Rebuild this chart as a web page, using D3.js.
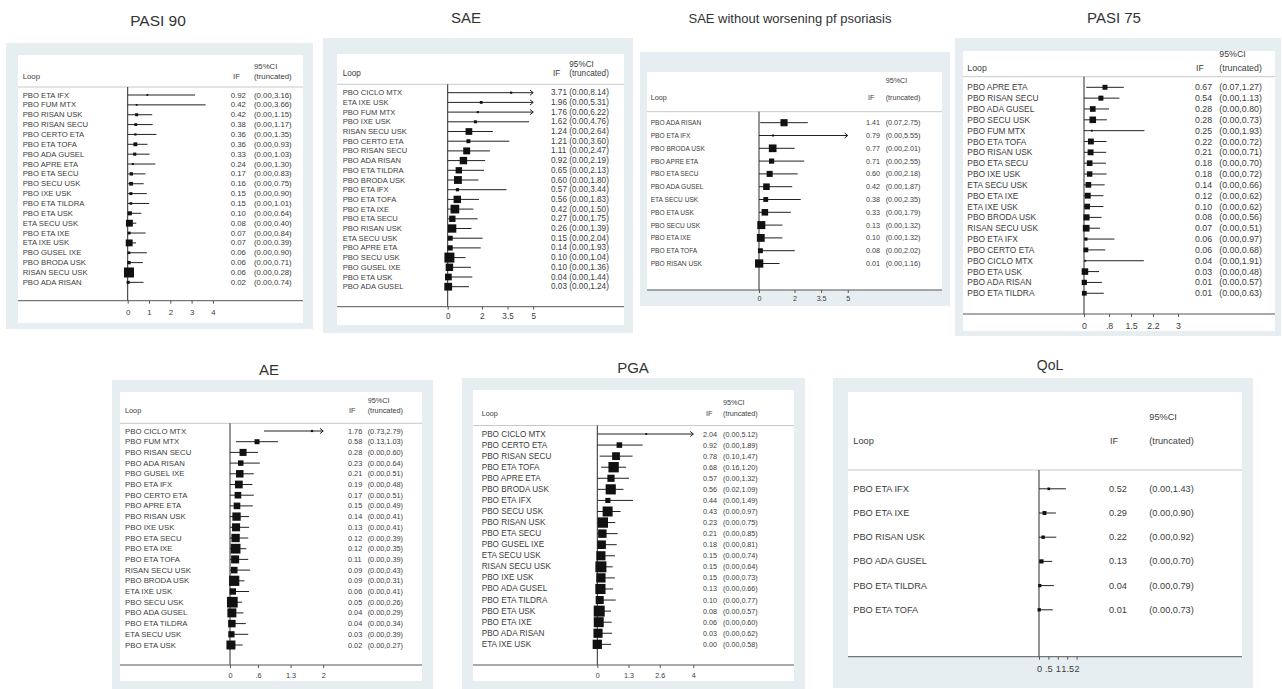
<!DOCTYPE html>
<html>
<head>
<meta charset="utf-8">
<script src="https://cdn.jsdelivr.net/npm/d3@7"></script>
<style>
  html, body { margin: 0; padding: 0; background: #ffffff; }
  svg { display: block; font-family: "Liberation Sans", Arial, Helvetica, sans-serif; }
</style>
</head>
<body>
<svg id="chart" width="1282" height="689"></svg>
<script>
// ---------- Inconsistency factors per loop (IF, truncated 95% CI) ----------

// PASI 90
const pasi90Loops = ["PBO ETA IFX","PBO FUM MTX","PBO RISAN USK","PBO RISAN SECU","PBO CERTO ETA","PBO ETA TOFA","PBO ADA GUSEL","PBO APRE ETA","PBO ETA SECU","PBO SECU USK","PBO IXE USK","PBO ETA TILDRA","PBO ETA USK","ETA SECU USK","PBO ETA IXE","ETA IXE USK","PBO GUSEL IXE","PBO BRODA USK","RISAN SECU USK","PBO ADA RISAN"];
const pasi90IF = [0.92,0.42,0.42,0.38,0.36,0.36,0.33,0.24,0.17,0.16,0.15,0.15,0.10,0.08,0.07,0.07,0.06,0.06,0.06,0.02];
const pasi90Lo = [0,0,0,0,0,0,0,0,0,0,0,0,0,0,0,0,0,0,0,0];
const pasi90Hi = [3.16,3.66,1.15,1.17,1.35,0.93,1.03,1.30,0.83,0.75,0.90,1.01,0.64,0.40,0.84,0.39,0.90,0.71,0.28,0.74];
const pasi90Ticks = [0,1,2,3,4];

// SAE
const saeLoops = ["PBO CICLO MTX","ETA IXE USK","PBO FUM MTX","PBO IXE USK","RISAN SECU USK","PBO CERTO ETA","PBO RISAN SECU","PBO ADA RISAN","PBO ETA TILDRA","PBO BRODA USK","PBO ETA IFX","PBO ETA TOFA","PBO ETA IXE","PBO ETA SECU","PBO RISAN USK","ETA SECU USK","PBO APRE ETA","PBO SECU USK","PBO GUSEL IXE","PBO ETA USK","PBO ADA GUSEL"];
const saeIF = [3.71,1.96,1.76,1.62,1.24,1.21,1.11,0.92,0.65,0.60,0.57,0.56,0.42,0.27,0.26,0.15,0.14,0.10,0.10,0.04,0.03];
const saeLo = [0,0,0,0,0,0,0,0,0,0,0,0,0,0,0,0,0,0,0,0,0];
const saeHi = [8.14,5.31,6.22,4.76,2.64,3.60,2.47,2.19,2.13,1.80,3.44,1.83,1.50,1.75,1.39,2.04,1.93,1.04,1.36,1.44,1.24];
const saeTicks = [0,2,3.5,5];

// SAE without worsening of psoriasis
const saeNoPsoLoops = ["PBO ADA RISAN","PBO ETA IFX","PBO BRODA USK","PBO APRE ETA","PBO ETA SECU","PBO ADA GUSEL","ETA SECU USK","PBO ETA USK","PBO SECU USK","PBO ETA IXE","PBO ETA TOFA","PBO RISAN USK"];
const saeNoPsoIF = [1.41,0.79,0.77,0.71,0.60,0.42,0.38,0.33,0.13,0.10,0.08,0.01];
const saeNoPsoLo = [0.07,0,0,0,0,0,0,0,0,0,0,0];
const saeNoPsoHi = [2.75,5.55,2.01,2.55,2.18,1.87,2.35,1.79,1.32,1.32,2.02,1.16];
const saeNoPsoTicks = [0,2,3.5,5];

// PASI 75
const pasi75Loops = ["PBO APRE ETA","PBO RISAN SECU","PBO ADA GUSEL","PBO SECU USK","PBO FUM MTX","PBO ETA TOFA","PBO RISAN USK","PBO ETA SECU","PBO IXE USK","ETA SECU USK","PBO ETA IXE","ETA IXE USK","PBO BRODA USK","RISAN SECU USK","PBO ETA IFX","PBO CERTO ETA","PBO CICLO MTX","PBO ETA USK","PBO ADA RISAN","PBO ETA TILDRA"];
const pasi75IF = [0.67,0.54,0.28,0.28,0.25,0.22,0.21,0.18,0.18,0.14,0.12,0.10,0.08,0.07,0.06,0.06,0.04,0.03,0.01,0.01];
const pasi75Lo = [0.07,0,0,0,0,0,0,0,0,0,0,0,0,0,0,0,0,0,0,0];
const pasi75Hi = [1.27,1.13,0.80,0.73,1.93,0.72,0.71,0.70,0.72,0.66,0.62,0.62,0.56,0.51,0.97,0.68,1.91,0.48,0.57,0.63];
const pasi75Ticks = [0,0.8,1.5,2.2,3];

// AE
const aeLoops = ["PBO CICLO MTX","PBO FUM MTX","PBO RISAN SECU","PBO ADA RISAN","PBO GUSEL IXE","PBO ETA IFX","PBO CERTO ETA","PBO APRE ETA","PBO RISAN USK","PBO IXE USK","PBO ETA SECU","PBO ETA IXE","PBO ETA TOFA","RISAN SECU USK","PBO BRODA USK","ETA IXE USK","PBO SECU USK","PBO ADA GUSEL","PBO ETA TILDRA","ETA SECU USK","PBO ETA USK"];
const aeIF = [1.76,0.58,0.28,0.23,0.21,0.19,0.17,0.15,0.14,0.13,0.12,0.12,0.11,0.09,0.09,0.06,0.05,0.04,0.04,0.03,0.02];
const aeLo = [0.73,0.13,0,0,0,0,0,0,0,0,0,0,0,0,0,0,0,0,0,0,0];
const aeHi = [2.79,1.03,0.60,0.64,0.51,0.48,0.51,0.49,0.41,0.41,0.39,0.35,0.39,0.43,0.31,0.41,0.26,0.29,0.34,0.39,0.27];
const aeTicks = [0,0.6,1.3,2];

// PGA
const pgaLoops = ["PBO CICLO MTX","PBO CERTO ETA","PBO RISAN SECU","PBO ETA TOFA","PBO APRE ETA","PBO BRODA USK","PBO ETA IFX","PBO SECU USK","PBO RISAN USK","PBO ETA SECU","PBO GUSEL IXE","ETA SECU USK","RISAN SECU USK","PBO IXE USK","PBO ADA GUSEL","PBO ETA TILDRA","PBO ETA USK","PBO ETA IXE","PBO ADA RISAN","ETA IXE USK"];
const pgaIF = [2.04,0.92,0.78,0.68,0.57,0.56,0.44,0.43,0.23,0.21,0.18,0.15,0.15,0.15,0.13,0.10,0.08,0.06,0.03,0.00];
const pgaLo = [0,0,0.10,0.16,0,0.02,0,0,0,0,0,0,0,0,0,0,0,0,0,0];
const pgaHi = [5.12,1.89,1.47,1.20,1.32,1.09,1.49,0.97,0.75,0.85,0.81,0.74,0.64,0.73,0.66,0.77,0.57,0.60,0.62,0.58];
const pgaTicks = [0,1.3,2.6,4];

// QoL
const qolLoops = ["PBO ETA IFX","PBO ETA IXE","PBO RISAN USK","PBO ADA GUSEL","PBO ETA TILDRA","PBO ETA TOFA"];
const qolIF = [0.52,0.29,0.22,0.13,0.04,0.01];
const qolLo = [0,0,0,0,0,0];
const qolHi = [1.43,0.90,0.92,0.70,0.79,0.73];
const qolTicks = [0,0.5,1,1.5,2];

// ---------- Panel layout ----------
const panels = [
  { title: "PASI 90", titleX: 158, titleY: 26, titleSize: 15.5,
    outer: [6, 43, 313, 329], inner: [18, 55, 303, 323],
    ciHeadY: 66, headY: 76, sepY: 87, rowTop: 95, rowStep: 9.86,
    zeroX: 127.7, unitPx: 21.3, axisY: 300.7, tickLabelY: 312,
    labelX: 22.7, ifX: 230.7, ifHeadX: 233, ciX: 254,
    labelSize: 7.7, numSize: 7.8, markMax: 10,
    loops: pasi90Loops, est: pasi90IF, lo: pasi90Lo, hi: pasi90Hi, ticks: pasi90Ticks },
  { title: "SAE", titleX: 466, titleY: 23, titleSize: 15,
    outer: [323, 38, 633, 333], inner: [337, 54, 624, 325],
    ciHeadY: 64, headY: 73.3, sepY: 84.3, rowTop: 92.7, rowStep: 9.7,
    zeroX: 447.7, unitPx: 17.1, axisY: 306.7, tickLabelY: 316,
    labelX: 342.7, ifX: 551, ifHeadX: 553, ciX: 569.3,
    labelSize: 7.6, numSize: 8.2, markMax: 10,
    loops: saeLoops, est: saeIF, lo: saeLo, hi: saeHi, ticks: saeTicks },
  { title: "SAE without worsening pf psoriasis", titleX: 790, titleY: 23, titleSize: 13,
    outer: [640, 52, 950, 306], inner: [647, 72, 942, 290],
    ciHeadY: 80, headY: 97.3, sepY: 111.7, rowTop: 122.7, rowStep: 12.8,
    zeroX: 759, unitPx: 17.75, axisY: 290, tickLabelY: 298,
    labelX: 650.7, ifX: 866, ifHeadX: 868, ciX: 885.7,
    labelSize: 6.6, numSize: 7.2, markMax: 8.3,
    loops: saeNoPsoLoops, est: saeNoPsoIF, lo: saeNoPsoLo, hi: saeNoPsoHi, ticks: saeNoPsoTicks },
  { title: "PASI 75", titleX: 1114, titleY: 23, titleSize: 15,
    outer: [955, 38, 1281, 336], inner: [963, 51, 1275, 331],
    ciHeadY: 54, headY: 68.3, sepY: 76.7, rowTop: 87.3, rowStep: 10.84,
    zeroX: 1084, unitPx: 31.33, axisY: 314, tickLabelY: 326,
    labelX: 967.3, ifX: 1195, ifHeadX: 1196, ciX: 1219.3,
    labelSize: 8.4, numSize: 8.8, markMax: 6.7,
    loops: pasi75Loops, est: pasi75IF, lo: pasi75Lo, hi: pasi75Hi, ticks: pasi75Ticks },
  { title: "AE", titleX: 269, titleY: 375, titleSize: 15,
    outer: [112, 380, 433, 689], inner: [120, 392, 422, 681],
    ciHeadY: 400, headY: 410.7, sepY: 423.3, rowTop: 431, rowStep: 10.7,
    zeroX: 230, unitPx: 46.6, axisY: 665, tickLabelY: 675,
    labelX: 125, ifX: 348, ifHeadX: 349, ciX: 367.7,
    labelSize: 7.8, numSize: 7.3, markMax: 10.7,
    loops: aeLoops, est: aeIF, lo: aeLo, hi: aeHi, ticks: aeTicks },
  { title: "PGA", titleX: 633, titleY: 373, titleSize: 15,
    outer: [462, 378, 805, 689], inner: [473, 390, 794, 681],
    ciHeadY: 402.7, headY: 413.3, sepY: 425.5, rowTop: 434, rowStep: 11.07,
    zeroX: 597.3, unitPx: 24, axisY: 665, tickLabelY: 675,
    labelX: 481.7, ifX: 703, ifHeadX: 706, ciX: 723,
    labelSize: 8.2, numSize: 7.2, markMax: 11,
    loops: pgaLoops, est: pgaIF, lo: pgaLo, hi: pgaHi, ticks: pgaTicks },
  { title: "QoL", titleX: 1050, titleY: 370, titleSize: 14,
    outer: [833, 378, 1253, 688], inner: [848, 392, 1242, 657],
    ciHeadY: 416.7, headY: 441, sepY: 470, rowTop: 488.8, rowStep: 24.2,
    zeroX: 1039, unitPx: 18.8, axisY: 656.7, tickLabelY: 668.3,
    labelX: 853.3, ifX: 1109, ifHeadX: 1110, ciX: 1149.3,
    labelSize: 9.2, numSize: 9.2, markMax: 4.2,
    loops: qolLoops, est: qolIF, lo: qolLo, hi: qolHi, ticks: qolTicks }
];

// ---------- Drawing ----------
const svg = d3.select("#chart");
const fmt2 = d3.format(".2f");
const fmtTick = d => d === 0 ? "0" : String(d).replace(/^0\./, ".");
const textColor = "#3c3c3c";

function drawPanel(p) {
  const g = svg.append("g");
  const [ox0, oy0, ox1, oy1] = p.outer;
  const [ix0, iy0, ix1, iy1] = p.inner;

  g.append("rect").attr("x", ox0).attr("y", oy0)
    .attr("width", ox1 - ox0).attr("height", oy1 - oy0).attr("fill", "#e7eef1");
  g.append("rect").attr("x", ix0).attr("y", iy0)
    .attr("width", ix1 - ix0).attr("height", iy1 - iy0).attr("fill", "#ffffff");

  svg.append("text").attr("x", p.titleX).attr("y", p.titleY)
    .attr("text-anchor", "middle").attr("font-size", p.titleSize)
    .attr("fill", "#333").text(p.title);

  const n = p.loops.length;
  const axisMax = d3.max(p.ticks);
  const x = d3.scaleLinear().domain([0, axisMax])
    .range([p.zeroX, p.zeroX + p.unitPx * axisMax]);
  const y = d3.scalePoint().domain(d3.range(n))
    .range([p.rowTop, p.rowTop + p.rowStep * (n - 1)]);

  // column headers
  const head = g.append("g").attr("fill", textColor).attr("font-size", p.numSize)
    .attr("dominant-baseline", "central");
  head.append("text").attr("x", p.labelX).attr("y", p.headY).text("Loop");
  head.append("text").attr("x", p.ifHeadX).attr("y", p.headY).text("IF");
  head.append("text").attr("x", p.ciX).attr("y", p.ciHeadY).text("95%CI");
  head.append("text").attr("x", p.ciX).attr("y", p.headY).text("(truncated)");

  g.append("line").attr("x1", ix0).attr("x2", ix1)
    .attr("y1", p.sepY).attr("y2", p.sepY)
    .attr("stroke", "#c8c8c8").attr("stroke-width", 1);

  // reference line at zero
  g.append("line").attr("x1", x(0)).attr("x2", x(0))
    .attr("y1", p.sepY).attr("y2", p.axisY)
    .attr("stroke", "#2a2a2a").attr("stroke-width", 1);

  // x axis
  g.append("line").attr("x1", ix0).attr("x2", ix1)
    .attr("y1", p.axisY).attr("y2", p.axisY)
    .attr("stroke", "#555").attr("stroke-width", 1);
  const tickSize = 3;
  const pad = (p.tickLabelY - p.axisY) - tickSize - 0.36 * p.numSize;
  const axis = d3.axisBottom(x).tickValues(p.ticks).tickFormat(fmtTick)
    .tickSize(tickSize).tickPadding(pad);
  const ax = g.append("g").attr("transform", `translate(0,${p.axisY})`).call(axis);
  ax.select(".domain").remove();
  ax.selectAll(".tick line").attr("stroke", "#555");
  ax.selectAll(".tick text").attr("fill", textColor)
    .attr("font-size", p.numSize).attr("font-family", null);

  // marker weights from the standard error implied by the upper limit
  const w = p.est.map((e, i) => 1.96 / (p.hi[i] - e));
  const wMax = d3.max(w);
  const side = i => Math.max(1.8, p.markMax * w[i] / wMax);

  const rows = g.append("g");
  p.loops.forEach((name, i) => {
    const cy = y(i);
    const hiClip = Math.min(p.hi[i], axisMax);
    rows.append("line")
      .attr("x1", x(p.lo[i])).attr("x2", x(hiClip))
      .attr("y1", cy).attr("y2", cy)
      .attr("stroke", "#222").attr("stroke-width", 1);
    if (p.hi[i] > axisMax) {
      const ex = x(axisMax);
      rows.append("path")
        .attr("d", `M${ex - 3.2},${cy - 2.6}L${ex},${cy}L${ex - 3.2},${cy + 2.6}`)
        .attr("fill", "none").attr("stroke", "#222").attr("stroke-width", 1);
    }
    const s = side(i);
    rows.append("rect")
      .attr("x", x(p.est[i]) - s / 2).attr("y", cy - s / 2)
      .attr("width", s).attr("height", s).attr("fill", "#111");

    rows.append("text").attr("x", p.labelX).attr("y", cy)
      .attr("dominant-baseline", "central").attr("font-size", p.labelSize)
      .attr("fill", textColor).text(name);
    rows.append("text").attr("x", p.ifX).attr("y", cy)
      .attr("dominant-baseline", "central").attr("font-size", p.numSize)
      .attr("fill", textColor).text(fmt2(p.est[i]));
    rows.append("text").attr("x", p.ciX).attr("y", cy)
      .attr("dominant-baseline", "central").attr("font-size", p.numSize)
      .attr("fill", textColor).text(`(${fmt2(p.lo[i])},${fmt2(p.hi[i])})`);
  });
}

panels.forEach(drawPanel);
</script>
</body>
</html>
